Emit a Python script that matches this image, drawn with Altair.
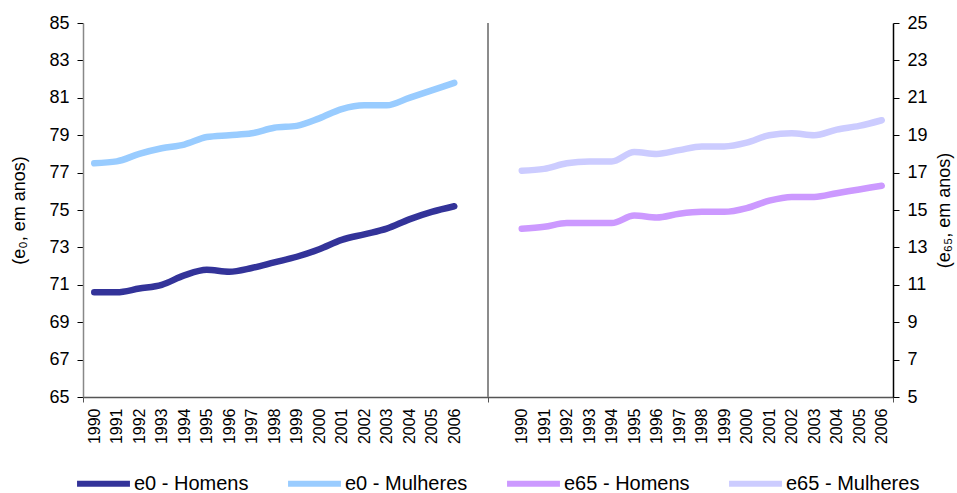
import json
import altair as alt
import pandas as pd

# Years on each half of the shared x axis
years = ["1990", "1991", "1992", "1993", "1994", "1995", "1996", "1997", "1998",
         "1999", "2000", "2001", "2002", "2003", "2004", "2005", "2006"]

# Life expectancy at birth (left axis)
e0_homens = [70.6, 70.6, 70.8, 71.0, 71.5, 71.8, 71.7, 71.9, 72.2, 72.5, 72.9,
             73.4, 73.7, 74.0, 74.5, 74.9, 75.2]
e0_mulheres = [77.5, 77.6, 78.0, 78.3, 78.5, 78.9, 79.0, 79.1, 79.4, 79.5, 79.9,
               80.4, 80.6, 80.6, 81.0, 81.4, 81.8]

# Life expectancy at 65 (right axis)
e65_homens = [14.0, 14.1, 14.3, 14.3, 14.3, 14.7, 14.6, 14.8, 14.9, 14.9, 15.1,
              15.5, 15.7, 15.7, 15.9, 16.1, 16.3]
e65_mulheres = [17.1, 17.2, 17.5, 17.6, 17.6, 18.1, 18.0, 18.2, 18.4, 18.4, 18.6,
                19.0, 19.1, 19.0, 19.3, 19.5, 19.8]

series_names = ["e0 - Homens", "e0 - Mulheres", "e65 - Homens", "e65 - Mulheres"]
series_colors = ["#333399", "#99CCFF", "#CC99FF", "#CCCCFF"]

left_ticks = [65, 67, 69, 71, 73, 75, 77, 79, 81, 83, 85]
right_ticks = [5, 7, 9, 11, 13, 15, 17, 19, 21, 23, 25]

# Slot layout: 17 years, two empty slots, 17 years
GAP = 2
n = len(years)
slot_labels = years + [""] * GAP + years
n_slots = len(slot_labels)
left_pos = [i + 0.5 for i in range(n)]
right_pos = [n + GAP + i + 0.5 for i in range(n)]
divider = n + GAP / 2


def frame(pos, vals, name):
    return pd.DataFrame({"pos": pos, "value": vals, "serie": name})


e0 = pd.concat([frame(left_pos, e0_homens, series_names[0]),
                frame(left_pos, e0_mulheres, series_names[1])])
e65 = pd.concat([frame(right_pos, e65_homens, series_names[2]),
                 frame(right_pos, e65_mulheres, series_names[3])])

FONT = "Liberation Sans"

label_expr = ("datum.value % 1 == 0 ? '' : "
              + json.dumps(slot_labels) + "[floor(datum.value)]")

x_enc = alt.X(
    "pos:Q",
    scale=alt.Scale(domain=[0, n_slots], nice=False, zero=False),
    axis=alt.Axis(
        values=[0] + left_pos + [divider] + right_pos + [n_slots],
        labelExpr=label_expr,
        labelAngle=270,
        labelFontSize=16,
        labelPadding=6,
        labelOverlap=False,
        labelColor="#000000",
        tickSize=5,
        tickColor="#555555",
        tickOpacity={"condition": {"test": "datum.value % 1 == 0", "value": 1}, "value": 0},
        domainColor="#555555",
        domainWidth=1.5,
        grid=False,
        title=None,
    ),
)

color_enc = alt.Color(
    "serie:N",
    scale=alt.Scale(domain=series_names, range=series_colors),
    legend=alt.Legend(
        title=None,
        orient="none",
        direction="horizontal",
        columns=4,
        legendX=-9,
        legendY=431,
        padding=0,
        symbolType="stroke",
        symbolSize=2800,
        symbolStrokeWidth=6,
        labelFontSize=20,
        labelFont=FONT,
        labelColor="#000000",
        labelOffset=1,
        columnPadding=27,
    ),
)

y_axis_common = dict(
    titleFontSize=18,
    titleFontWeight="normal",
    titleFont=FONT,
    titleColor="#000000",
    labelFontSize=18,
    labelColor="#000000",
    labelPadding=8,
    tickSize=6,
    tickColor="#000000",
    domainWidth=1.5,
    grid=False,
)

left = alt.Chart(e0).mark_line(strokeWidth=6.5, interpolate="monotone", strokeCap="round").encode(
    x=x_enc,
    y=alt.Y(
        "value:Q",
        scale=alt.Scale(domain=[65, 85], nice=False, zero=False),
        axis=alt.Axis(
            orient="left",
            values=left_ticks,
            title="(e\u2080, em anos)",
            titlePadding=20,
            domainColor="#888888",
            **y_axis_common,
        ),
    ),
    color=color_enc,
)

right = alt.Chart(e65).mark_line(strokeWidth=6.5, interpolate="monotone", strokeCap="round").encode(
    x=x_enc,
    y=alt.Y(
        "value:Q",
        scale=alt.Scale(domain=[5, 25], nice=False, zero=False),
        axis=alt.Axis(
            orient="right",
            values=right_ticks,
            title="(e\u2086\u2085, em anos)",
            titleAngle=270,
            titleBaseline="top",
            titlePadding=8,
            domainColor="#000000",
            **y_axis_common,
        ),
    ),
    color=color_enc,
)

# Vertical separator between the two halves
sep = alt.Chart(pd.DataFrame({"pos": [divider]})).mark_rule(
    color="#8c8c8c", strokeWidth=2
).encode(x=x_enc)

chart = (
    alt.layer(sep, left, right)
    .resolve_scale(y="independent")
    .properties(
        width=810,
        height=374,
        autosize=alt.AutoSizeParams(type="none"),
        padding={"left": 83, "top": 23, "right": 64, "bottom": 96},
    )
    .configure(font=FONT)
    .configure_view(stroke=None)
    .configure_axis(labelFont=FONT, titleFont=FONT)
)

chart.save("out.html", embed_options={"renderer": "svg", "actions": False})
